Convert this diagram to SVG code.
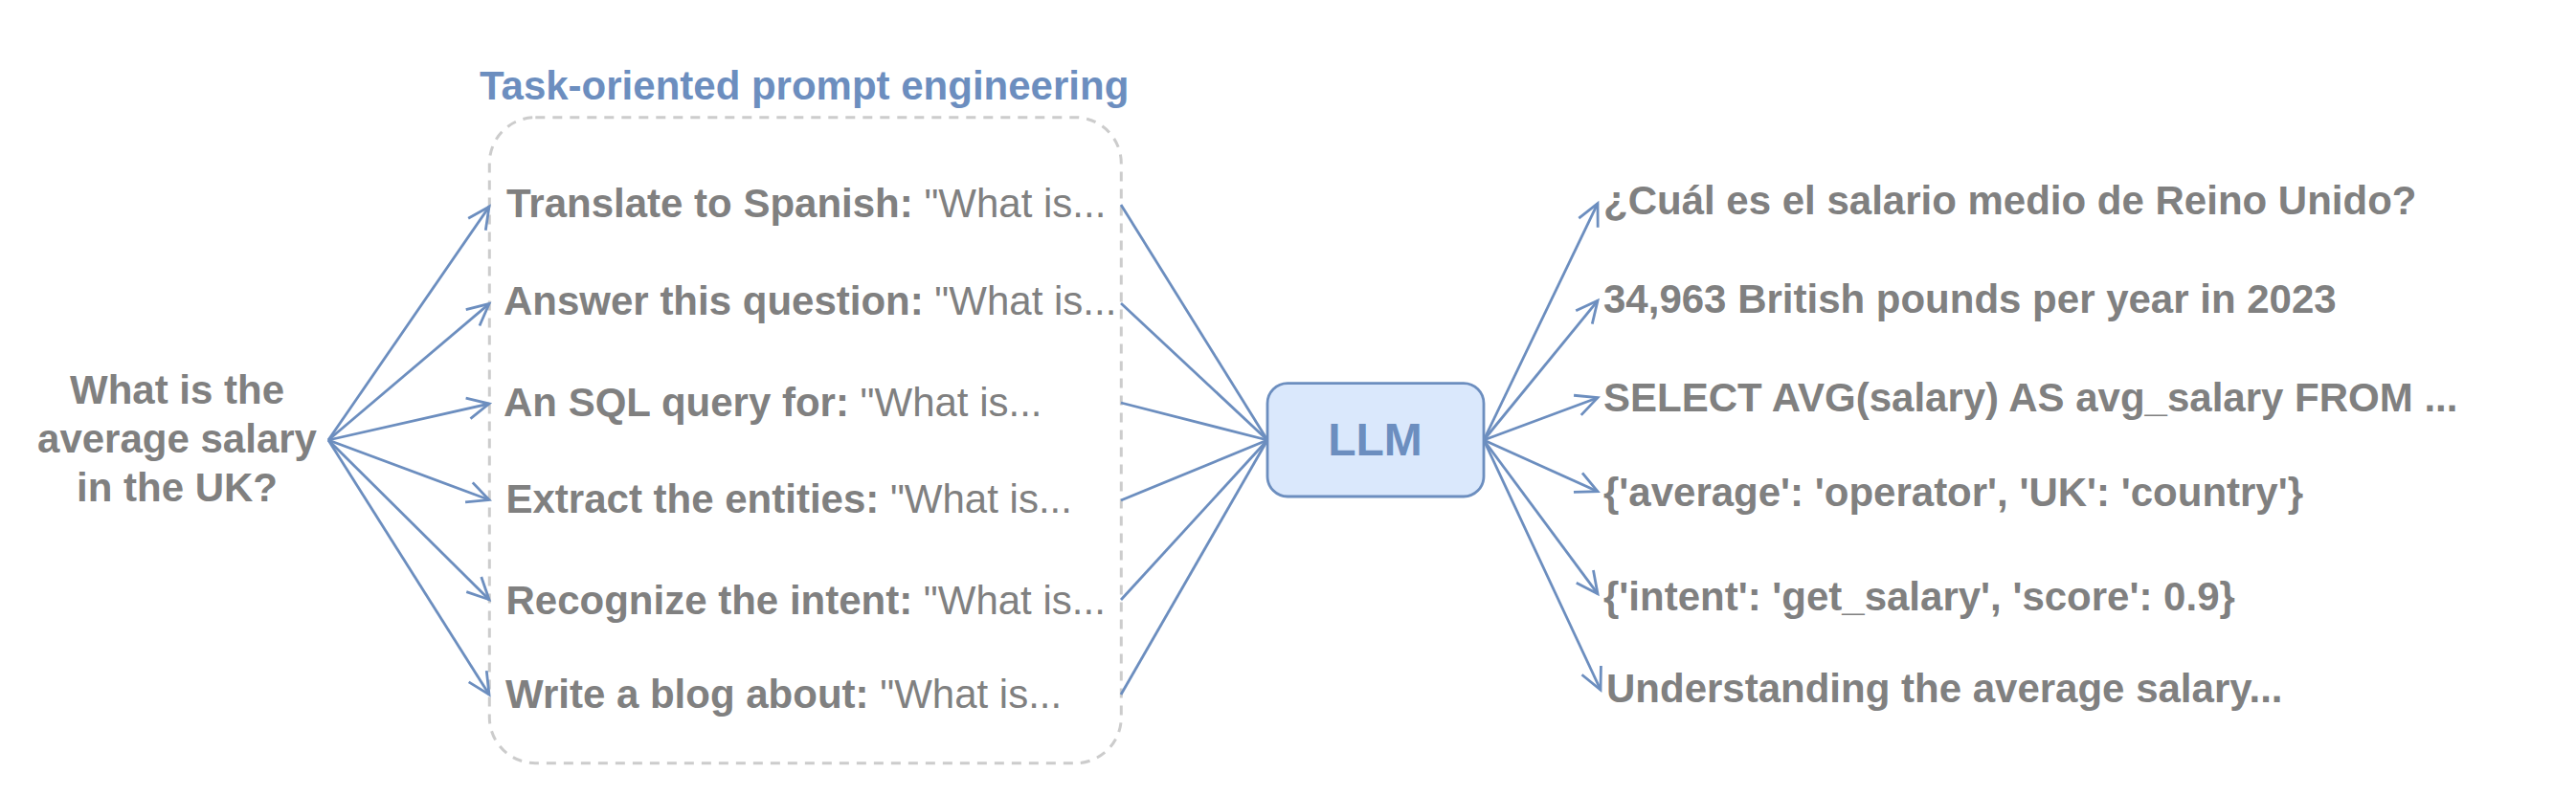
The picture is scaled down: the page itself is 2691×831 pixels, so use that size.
<svg xmlns="http://www.w3.org/2000/svg" width="2691" height="831" viewBox="0 0 2691 831">
<style>
text{font-family:"Liberation Sans",Arial,sans-serif;font-size:42px;fill:#808080}
.b{font-weight:bold}
.n{font-weight:normal}
.c{text-anchor:middle}
.e{fill:none;stroke:#6c8ebf;stroke-width:2.8}
.a{marker-end:url(#arrow)}
</style>
<defs>
<marker id="arrow" markerUnits="userSpaceOnUse" markerWidth="30" markerHeight="30" refX="24" refY="15" orient="auto" overflow="visible">
<path d="M1.500,4 L24,15 L1.500,26" fill="none" stroke="#6c8ebf" stroke-width="2.8"/>
</marker>
</defs>
<g id="group-box"><rect x="511.300" y="122.700" width="660" height="675" rx="48" ry="48" fill="none" stroke="#cccccc" stroke-width="3" stroke-dasharray="10 8"/></g>
<g id="group-title"><text class="b" x="501" y="104" style="fill:#6c8ebf">Task-oriented prompt engineering</text></g>
<g id="connectors">
<path class="e a" d="M343,460 L511,216"/>
<path class="e a" d="M343,460 L511,317.500"/>
<path class="e a" d="M343,460 L511,422"/>
<path class="e a" d="M343,460 L511,522.500"/>
<path class="e a" d="M343,460 L511,626.700"/>
<path class="e a" d="M343,460 L511,726"/>
<path class="e" d="M1171,214 L1324,460"/>
<path class="e" d="M1171,317 L1324,460"/>
<path class="e" d="M1171,421 L1324,460"/>
<path class="e" d="M1171,523 L1324,460"/>
<path class="e" d="M1171,627 L1324,460"/>
<path class="e" d="M1171,726 L1324,460"/>
<path class="e a" d="M1550,460 L1669,212.700"/>
<path class="e a" d="M1550,460 L1669,314.300"/>
<path class="e a" d="M1550,460 L1669,415.700"/>
<path class="e a" d="M1550,460 L1669,513.700"/>
<path class="e a" d="M1550,460 L1669,620.700"/>
<path class="e a" d="M1550,460 L1672,721"/>
</g>
<g id="question"><text class="b c" x="185" y="422">What is the</text><text class="b c" x="185" y="473">average salary</text><text class="b c" x="185" y="524">in the UK?</text></g>
<g id="llm"><rect x="1324" y="400.700" width="226" height="118.300" rx="21" ry="21" fill="#dae8fc" stroke="#6c8ebf" stroke-width="2.800"/><text class="b c" x="1436.500" y="476" style="fill:#6c8ebf;font-size:48px">LLM</text></g>
<g id="prompt-1"><text x="529" y="226.700"><tspan class="b">Translate to Spanish:</tspan><tspan class="n"> "What is...</tspan></text></g>
<g id="prompt-2"><text x="526" y="329.300"><tspan class="b">Answer this question:</tspan><tspan class="n"> "What is...</tspan></text></g>
<g id="prompt-3"><text x="526" y="434.500"><tspan class="b">An SQL query for:</tspan><tspan class="n"> "What is...</tspan></text></g>
<g id="prompt-4"><text x="528.500" y="536"><tspan class="b">Extract the entities:</tspan><tspan class="n"> "What is...</tspan></text></g>
<g id="prompt-5"><text x="528.500" y="641.500"><tspan class="b">Recognize the intent:</tspan><tspan class="n"> "What is...</tspan></text></g>
<g id="prompt-6"><text x="528" y="740"><tspan class="b">Write a blog about:</tspan><tspan class="n"> "What is...</tspan></text></g>
<g id="output-1"><text class="b" x="1675" y="224">¿Cuál es el salario medio de Reino Unido?</text></g>
<g id="output-2"><text class="b" x="1675" y="327">34,963 British pounds per year in 2023</text></g>
<g id="output-3"><text class="b" x="1675" y="430">SELECT AVG(salary) AS avg_salary FROM ...</text></g>
<g id="output-4"><text class="b" x="1675" y="529">{'average': 'operator', 'UK': 'country'}</text></g>
<g id="output-5"><text class="b" x="1675" y="638">{'intent': 'get_salary', 'score': 0.9}</text></g>
<g id="output-6"><text class="b" x="1678" y="734">Understanding the average salary...</text></g>
</svg>
